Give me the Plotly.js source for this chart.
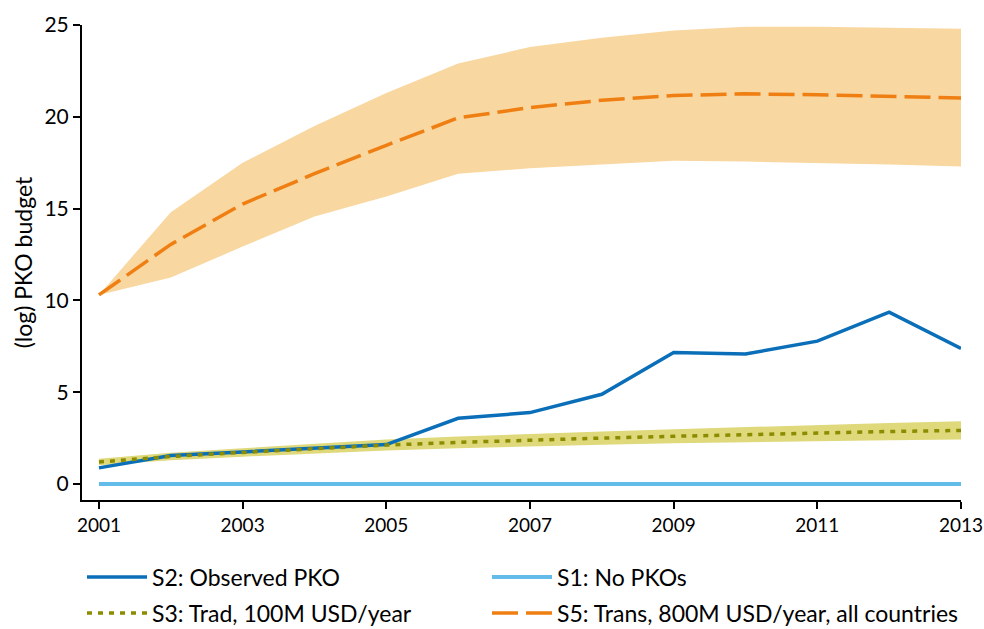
<!DOCTYPE html>
<html>
<head>
<meta charset="utf-8">
<script src="https://cdn.plot.ly/plotly-3.0.1.min.js"></script>
<style>html,body{margin:0;padding:0;background:#fff}#chart{width:984px;height:629px}</style>
</head>
<body>
<div id="chart"></div>
<script>
const years = [2001,2002,2003,2004,2005,2006,2007,2008,2009,2010,2011,2012,2013];
const s1NoPKO = [0,0,0,0,0,0,0,0,0,0,0,0,0];
const s2Observed = [0.88,1.55,1.75,1.95,2.15,3.58,3.89,4.89,7.16,7.08,7.78,9.36,7.38];
const s3Mean  = [1.2,1.5,1.72,1.92,2.12,2.27,2.4,2.5,2.6,2.7,2.78,2.86,2.92];
const s3Upper = [1.38,1.7,1.95,2.18,2.42,2.59,2.74,2.86,2.98,3.11,3.22,3.33,3.42];
const s3Lower = [1.02,1.3,1.49,1.66,1.82,1.95,2.06,2.14,2.22,2.29,2.34,2.39,2.42];
const s5Mean  = [10.3,13.05,15.25,16.9,18.45,19.94,20.5,20.9,21.16,21.25,21.2,21.13,21.03];
const s5Upper = [10.3,14.8,17.5,19.5,21.3,22.9,23.8,24.3,24.7,24.9,24.9,24.85,24.8];
const s5Lower = [10.3,11.25,12.93,14.57,15.66,16.9,17.2,17.4,17.6,17.56,17.5,17.4,17.3];
const yTicks = [0,5,10,15,20,25];
const xTicks = [2001,2003,2005,2007,2009,2011,2013];

const FONT = 'Lato, "Open Sans", sans-serif';

const traces = [
  {x: years, y: s5Upper, type:'scatter', mode:'lines', line:{width:0,color:'rgba(0,0,0,0)'}, showlegend:false, hoverinfo:'skip'},
  {x: years, y: s5Lower, type:'scatter', mode:'lines', line:{width:0,color:'rgba(0,0,0,0)'}, fill:'tonexty', fillcolor:'#f9d7a0', showlegend:false, hoverinfo:'skip'},
  {x: years, y: s3Upper, type:'scatter', mode:'lines', line:{width:0,color:'rgba(0,0,0,0)'}, showlegend:false, hoverinfo:'skip'},
  {x: years, y: s3Lower, type:'scatter', mode:'lines', line:{width:0,color:'rgba(0,0,0,0)'}, fill:'tonexty', fillcolor:'#dfd97c', showlegend:false, hoverinfo:'skip'},
  {x: years, y: s1NoPKO, type:'scatter', mode:'lines', name:'S1: No PKOs', line:{color:'#62bbe8', width:4}, legend:'legend2'},
  {x: years, y: s2Observed, type:'scatter', mode:'lines', name:'S2: Observed PKO', line:{color:'#0a6fb8', width:3.5}, legend:'legend'},
  {x: years, y: s3Mean, type:'scatter', mode:'lines', name:'S3: Trad, 100M USD/year', line:{color:'#8c8c00', width:3.5, dash:'5px,6px'}, legend:'legend3'},
  {x: years, y: s5Mean, type:'scatter', mode:'lines', name:'S5: Trans, 800M USD/year, all countries', line:{color:'#ef7f12', width:3.5, dash:'26px,8px'}, legend:'legend4'}
];

const legendCommon = {
  orientation:'h', xref:'container', yref:'container', xanchor:'left', yanchor:'middle',
  font:{family:FONT, size:23, color:'#000'}, itemwidth:60,
  bgcolor:'rgba(0,0,0,0)', traceorder:'normal'
};

const layout = {
  width:984, height:629,
  margin:{l:82, r:23, t:25, b:129},
  paper_bgcolor:'#fff', plot_bgcolor:'#fff',
  font:{family:FONT, size:22, color:'#000'},
  showlegend:true,
  xaxis:{
    range:[2000.764, 2013], tickmode:'array', tickvals:xTicks, ticktext:xTicks.map(String),
    showline:true, linecolor:'#000', linewidth:2, ticks:'outside', ticklen:7, tickwidth:2, tickcolor:'#000',
    showgrid:false, zeroline:false, tickfont:{family:FONT, size:19, color:'#000'}, ticklabeloverflow:'allow'
  },
  yaxis:{
    range:[-0.87, 25], tickmode:'array', tickvals:yTicks, ticktext:yTicks.map(String),
    showline:true, linecolor:'#000', linewidth:2, ticks:'outside', ticklen:7, tickwidth:2, tickcolor:'#000',
    showgrid:false, zeroline:false, tickfont:{family:FONT, size:21, color:'#000'}, ticklabeloverflow:'allow',
    title:{text:'(log) PKO budget', font:{family:FONT, size:23, color:'#000'}, standoff:5}
  },
  legend:  Object.assign({}, legendCommon, {x:82/984,  y:1-577/629}),
  legend2: Object.assign({}, legendCommon, {x:487/984, y:1-577/629}),
  legend3: Object.assign({}, legendCommon, {x:82/984,  y:1-613/629}),
  legend4: Object.assign({}, legendCommon, {x:487/984, y:1-613/629})
};

Plotly.newPlot('chart', traces, layout, {displayModeBar:false, staticPlot:true});
</script>
</body>
</html>
